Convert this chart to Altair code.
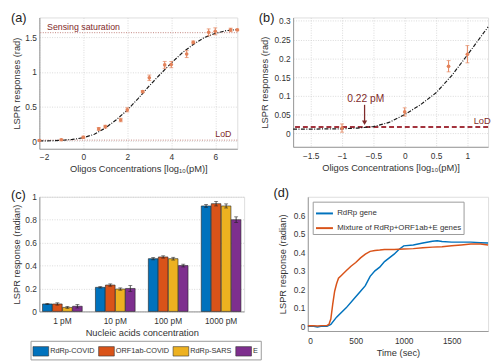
import altair as alt
import pandas as pd

# ---------------- data ----------------
# (a) oligo calibration
A_X = [-2, -1, 0, 0.7, 1, 1.7, 2, 2.7, 3, 3.7, 4, 4.7, 5, 5.7, 6, 6.7, 7]
A_Y = [0.01, 0.02, 0.057, 0.177, 0.21, 0.306, 0.454, 0.717, 0.917, 1.104, 1.108, 1.26, 1.43, 1.575, 1.59, 1.61, 1.61]
A_ERR = [0.01, 0.01, 0.015, 0.02, 0.02, 0.025, 0.03, 0.015, 0.04, 0.05, 0.045, 0.05, 0.02, 0.05, 0.05, 0.025, 0.01]
A_FIT_X = [-2, -1.5, -1, -0.5, 0, 0.5, 1, 1.5, 2, 2.5, 3, 3.5, 4, 4.5, 5, 5.5, 6, 6.5, 7]
A_FIT_Y = [0.003, 0.006, 0.012, 0.025, 0.05, 0.1, 0.19, 0.31, 0.45, 0.62, 0.8, 0.97, 1.13, 1.28, 1.4, 1.5, 1.56, 1.6, 1.615]
A_SAT = 1.57
A_LOD = 0.015

# (b) zoom near LoD
B_X = [-1, 0, 0.7, 1]
B_Y = [0.014, 0.057, 0.179, 0.211]
B_ERR = [0.011, 0.011, 0.015, 0.023]
B_FIT_X = [-1.78, -1.5, -1.25, -1, -0.75, -0.5, -0.25, 0, 0.25, 0.5, 0.75, 1, 1.33]
B_FIT_Y = [0.011, 0.011, 0.012, 0.012, 0.014, 0.018, 0.029, 0.05, 0.076, 0.108, 0.154, 0.209, 0.284]
B_LOD = 0.017
B_MARK_X = -0.64

# (c) nucleic acid bars
C_CONC = ["1 pM", "10 pM", "100 pM", "1000 pM"]
C_GENES = ["RdRp-COVID", "ORF1ab-COVID", "RdRp-SARS", "E"]
C_COLORS = ["#0072BD", "#D95319", "#EDB120", "#7E2F8E"]
C_VAL = {
    "RdRp-COVID":   [0.065, 0.21, 0.46, 0.92],
    "ORF1ab-COVID": [0.065, 0.23, 0.475, 0.94],
    "RdRp-SARS":    [0.035, 0.195, 0.46, 0.92],
    "E":            [0.045, 0.20, 0.40, 0.80],
}
C_ERR = {
    "RdRp-COVID":   [0.005, 0.006, 0.01, 0.012],
    "ORF1ab-COVID": [0.01, 0.01, 0.01, 0.02],
    "RdRp-SARS":    [0.008, 0.01, 0.012, 0.018],
    "E":            [0.015, 0.025, 0.012, 0.025],
}

# (d) kinetics
D_SERIES = ["RdRp gene", "Mixture of RdRp+ORF1ab+E genes"]
D_COLORS = ["#0072BD", "#D95319"]
D_BLUE_T = [0, 50, 100, 150, 200, 240, 300, 400, 500, 550, 600, 650, 700, 750, 800, 850, 900, 950, 1000,
            1100, 1200, 1300, 1350, 1400, 1500, 1600, 1700, 1800, 1880]
D_BLUE_V = [0.0, 0.002, -0.003, 0.002, 0.0, 0.01, 0.05, 0.1, 0.16, 0.19, 0.22, 0.27, 0.3, 0.32, 0.35, 0.37,
            0.39, 0.415, 0.435, 0.44, 0.45, 0.46, 0.463, 0.458, 0.455, 0.455, 0.455, 0.452, 0.45]
D_ORNG_T = [0, 50, 100, 150, 200, 220, 240, 260, 280, 300, 320, 350, 400, 450, 500, 550, 600, 650, 700,
            750, 800, 900, 1000, 1100, 1200, 1300, 1400, 1500, 1600, 1700, 1800, 1880]
D_ORNG_V = [0.003, 0.004, 0.002, 0.004, 0.005, 0.01, 0.04, 0.12, 0.19, 0.23, 0.26, 0.275, 0.3, 0.325, 0.345,
            0.37, 0.39, 0.405, 0.41, 0.412, 0.415, 0.415, 0.418, 0.42, 0.425, 0.428, 0.43, 0.435, 0.44, 0.445,
            0.445, 0.44]

PANEL_LABELS = ["(a)", "(b)", "(c)", "(d)"]

# ---------------- style ----------------
FONT = "Liberation Sans"
TXT = "#333333"
AXC = "#9a9a9a"
GRID = "#cfcfcf"
ORANGE = "#E3825A"
DARKRED = "#7F2A2A"
LODRED = "#A3333D"


def axis(**kw):
    base = dict(domainColor=AXC, ticks=False, labelFont=FONT, labelFontSize=8.5, labelColor=TXT,
                titleFont=FONT, titleFontSize=9.5, titleColor=TXT, titleFontWeight="normal",
                gridColor=GRID, gridDash=[1, 1.5], gridWidth=0.8, labelPadding=3, format="~g")
    base.update(kw)
    base = {k: v for k, v in base.items() if v is not None}
    return alt.Axis(**base)


def panel_label(text, dx, dy):
    return alt.Chart(pd.DataFrame({"t": [text]})).mark_text(
        font=FONT, fontSize=13, color="#222", align="left", baseline="top"
    ).encode(x=alt.value(dx), y=alt.value(dy), text="t:N")


# ---------------- panel (a) ----------------
a_pts = pd.DataFrame({"x": A_X, "y": A_Y,
                      "lo": [y - e for y, e in zip(A_Y, A_ERR)],
                      "hi": [y + e for y, e in zip(A_Y, A_ERR)]})
a_fit = pd.DataFrame({"x": A_FIT_X, "y": A_FIT_Y})
ax_a = axis(values=[-2, 0, 2, 4, 6], title="Oligos Concentrations [log₁₀(pM)]", labelPadding=4, titlePadding=3)
ay_a = axis(values=[0, 0.5, 1, 1.5], title="LSPR responses (rad)", titlePadding=3)
sx_a = alt.Scale(domain=[-2, 7], nice=False, zero=False)
sy_a = alt.Scale(domain=[-0.11, 1.79], nice=False, zero=False)

a_base = alt.Chart(a_pts)
a_err = a_base.mark_rule(color=ORANGE, strokeWidth=1).encode(
    x=alt.X("x:Q", scale=sx_a, axis=ax_a), y=alt.Y("lo:Q", scale=sy_a, axis=ay_a), y2="hi:Q")
a_cap_lo = a_base.mark_tick(color=ORANGE, orient="horizontal", size=4, thickness=1).encode(
    x=alt.X("x:Q", scale=sx_a, axis=ax_a), y=alt.Y("lo:Q", scale=sy_a, axis=ay_a))
a_cap_hi = a_base.mark_tick(color=ORANGE, orient="horizontal", size=4, thickness=1).encode(
    x=alt.X("x:Q", scale=sx_a, axis=ax_a), y=alt.Y("hi:Q", scale=sy_a, axis=ay_a))
a_dot = a_base.mark_point(color=ORANGE, filled=True, size=14, opacity=1).encode(
    x=alt.X("x:Q", scale=sx_a, axis=ax_a), y=alt.Y("y:Q", scale=sy_a, axis=ay_a))
a_line = alt.Chart(a_fit).mark_line(color="#1a1a1a", strokeWidth=1.2, strokeDash=[4, 1.5, 1, 1.5]).encode(
    x=alt.X("x:Q", scale=sx_a, axis=ax_a), y=alt.Y("y:Q", scale=sy_a, axis=ay_a))
a_sat = alt.Chart(pd.DataFrame({"y": [A_SAT]})).mark_rule(color="#C0807A", strokeDash=[1, 1.5], strokeWidth=1).encode(
    y=alt.Y("y:Q", scale=sy_a, axis=ay_a))
a_lod = alt.Chart(pd.DataFrame({"y": [A_LOD]})).mark_rule(color="#C0807A", strokeDash=[1, 1.5], strokeWidth=1).encode(
    y=alt.Y("y:Q", scale=sy_a, axis=ay_a))
a_txt = alt.Chart(pd.DataFrame({"x": [-1.65, 6.0], "y": [1.61, 0.055], "t": ["Sensing saturation", "LoD"]})).mark_text(
    font=FONT, fontSize=9, color=DARKRED, align="left", baseline="alphabetic").encode(
    x=alt.X("x:Q", scale=sx_a, axis=ax_a), y=alt.Y("y:Q", scale=sy_a, axis=ay_a), text="t:N")

panel_a = alt.layer(a_sat, a_lod, a_line, a_err, a_cap_lo, a_cap_hi, a_dot, a_txt,
                    panel_label(PANEL_LABELS[0], -29, -5)).properties(width=202, height=134)

# ---------------- panel (b) ----------------
b_pts = pd.DataFrame({"x": B_X, "y": B_Y,
                      "lo": [y - e for y, e in zip(B_Y, B_ERR)],
                      "hi": [y + e for y, e in zip(B_Y, B_ERR)]})
b_fit = pd.DataFrame({"x": B_FIT_X, "y": B_FIT_Y})
ax_b = axis(values=[-1.5, -1, -0.5, 0, 0.5, 1], title="Oligos Concentrations [log₁₀(pM)]", labelPadding=5, titlePadding=3)
ay_b = axis(values=[0, 0.05, 0.1, 0.15, 0.2, 0.25, 0.3], title="LSPR responses (rad)", titlePadding=5)
sx_b = alt.Scale(domain=[-1.78, 1.33], nice=False, zero=False)
sy_b = alt.Scale(domain=[-0.036, 0.309], nice=False, zero=False)

b_base = alt.Chart(b_pts)
b_lod = alt.Chart(pd.DataFrame({"y": [B_LOD]})).mark_rule(color=LODRED, strokeDash=[5, 3], strokeWidth=2).encode(
    y=alt.Y("y:Q", scale=sy_b, axis=ay_b))
b_line = alt.Chart(b_fit).mark_line(color="#1a1a1a", strokeWidth=1.2, strokeDash=[4, 1.5, 1, 1.5]).encode(
    x=alt.X("x:Q", scale=sx_b, axis=ax_b), y=alt.Y("y:Q", scale=sy_b, axis=ay_b))
b_err = b_base.mark_rule(color=ORANGE, strokeWidth=1).encode(
    x=alt.X("x:Q", scale=sx_b, axis=ax_b), y=alt.Y("lo:Q", scale=sy_b, axis=ay_b), y2="hi:Q")
b_cap_lo = b_base.mark_tick(color=ORANGE, orient="horizontal", size=4, thickness=1).encode(
    x=alt.X("x:Q", scale=sx_b, axis=ax_b), y=alt.Y("lo:Q", scale=sy_b, axis=ay_b))
b_cap_hi = b_base.mark_tick(color=ORANGE, orient="horizontal", size=4, thickness=1).encode(
    x=alt.X("x:Q", scale=sx_b, axis=ax_b), y=alt.Y("hi:Q", scale=sy_b, axis=ay_b))
b_dot = b_base.mark_point(color=ORANGE, filled=True, size=14, opacity=1).encode(
    x=alt.X("x:Q", scale=sx_b, axis=ax_b), y=alt.Y("y:Q", scale=sy_b, axis=ay_b))
b_arrow = alt.Chart(pd.DataFrame({"x": [B_MARK_X], "y": [0.076], "y2": [0.032]})).mark_rule(
    color=DARKRED, strokeWidth=1.3).encode(
    x=alt.X("x:Q", scale=sx_b, axis=ax_b), y=alt.Y("y:Q", scale=sy_b, axis=ay_b), y2="y2:Q")
b_head = alt.Chart(pd.DataFrame({"x": [B_MARK_X], "y": [0.028]})).mark_point(
    shape="triangle-down", filled=True, color=DARKRED, size=28, opacity=1).encode(
    x=alt.X("x:Q", scale=sx_b, axis=ax_b), y=alt.Y("y:Q", scale=sy_b, axis=ay_b))
b_txt_pm = alt.Chart(pd.DataFrame({"x": [-0.62], "y": [0.083], "t": ["0.22 pM"]})).mark_text(
    font=FONT, fontSize=10.5, color=DARKRED, align="center", baseline="alphabetic").encode(
    x=alt.X("x:Q", scale=sx_b, axis=ax_b), y=alt.Y("y:Q", scale=sy_b, axis=ay_b), text="t:N")
b_txt_lod = alt.Chart(pd.DataFrame({"x": [1.1], "y": [0.024], "t": ["LoD"]})).mark_text(
    font=FONT, fontSize=9.5, color=DARKRED, align="left", baseline="alphabetic").encode(
    x=alt.X("x:Q", scale=sx_b, axis=ax_b), y=alt.Y("y:Q", scale=sy_b, axis=ay_b), text="t:N")

panel_b = alt.layer(b_lod, b_line, b_err, b_cap_lo, b_cap_hi, b_dot, b_arrow, b_head, b_txt_pm, b_txt_lod,
                    panel_label(PANEL_LABELS[1], -35, -5)).properties(width=199, height=132)

# ---------------- panel (c) ----------------
c_rows = []
for g in C_GENES:
    for i, c in enumerate(C_CONC):
        v, e = C_VAL[g][i], C_ERR[g][i]
        c_rows.append({"conc": c, "gene": g, "v": v, "lo": v - e, "hi": v + e})
c_df = pd.DataFrame(c_rows)
ax_c = axis(title="Nucleic acids concentration", labelAngle=0, labelPadding=5, titlePadding=3, grid=False, format=None)
ay_c = axis(values=[0, 0.2, 0.4, 0.6, 0.8, 1], title="LSPR response (radian)", titlePadding=3)
x_c = alt.X("conc:N", sort=C_CONC, scale=alt.Scale(paddingInner=0.25, paddingOuter=0.06), axis=ax_c)
xo_c = alt.XOffset("gene:N", sort=C_GENES, scale=alt.Scale(paddingInner=0.04))
sy_c = alt.Scale(domain=[0, 1], nice=False)

c_base = alt.Chart(c_df)
c_bars = c_base.mark_bar(stroke="#222", strokeWidth=0.6).encode(
    x=x_c, xOffset=xo_c, y=alt.Y("v:Q", scale=sy_c, axis=ay_c),
    color=alt.Color("gene:N", sort=C_GENES, scale=alt.Scale(domain=C_GENES, range=C_COLORS),
                    legend=alt.Legend(orient="none", legendX=-9, legendY=147, direction="horizontal",
                                      title=None, strokeColor="#9a9a9a", fillColor="white", padding=2,
                                      symbolType="M-1,-0.6H1V0.6H-1Z", symbolSize=256,
                                      symbolStrokeColor="#333", symbolStrokeWidth=0.6, symbolOpacity=1,
                                      labelFont=FONT, labelFontSize=7.5, labelColor=TXT,
                                      labelOffset=1, columnPadding=2)))
c_err = c_base.mark_rule(color="#222", strokeWidth=0.8).encode(
    x=x_c, xOffset=xo_c, y=alt.Y("lo:Q", scale=sy_c, axis=ay_c), y2="hi:Q")
c_cap_lo = c_base.mark_tick(color="#222", orient="horizontal", size=4, thickness=0.8).encode(
    x=x_c, xOffset=xo_c, y=alt.Y("lo:Q", scale=sy_c, axis=ay_c))
c_cap_hi = c_base.mark_tick(color="#222", orient="horizontal", size=4, thickness=0.8).encode(
    x=x_c, xOffset=xo_c, y=alt.Y("hi:Q", scale=sy_c, axis=ay_c))

panel_c = alt.layer(c_bars, c_err, c_cap_lo, c_cap_hi,
                    panel_label(PANEL_LABELS[2], -29, -8)).properties(width=209, height=117)

# ---------------- panel (d) ----------------
d_df = pd.concat([
    pd.DataFrame({"t": D_BLUE_T, "v": D_BLUE_V, "series": D_SERIES[0]}),
    pd.DataFrame({"t": D_ORNG_T, "v": D_ORNG_V, "series": D_SERIES[1]}),
])
ax_d = axis(values=[0, 500, 1000, 1500], title="Time (sec)", labelPadding=6, titlePadding=3, format="d", grid=False)
ay_d = axis(values=[0, 0.1, 0.2, 0.3, 0.4, 0.5, 0.6], title="LSPR response (radian)", titlePadding=6, grid=False)
d_lines = alt.Chart(d_df).mark_line(strokeWidth=1.5).encode(
    x=alt.X("t:Q", scale=alt.Scale(domain=[0, 1880], nice=False), axis=ax_d),
    y=alt.Y("v:Q", scale=alt.Scale(domain=[-0.025, 0.7], nice=False, zero=False), axis=ay_d),
    color=alt.Color("series:N", sort=D_SERIES, scale=alt.Scale(domain=D_SERIES, range=D_COLORS),
                    legend=alt.Legend(orient="none", legendX=5, legendY=5, title=None,
                                      strokeColor="#9a9a9a", fillColor="white", padding=2,
                                      symbolType="stroke", symbolSize=300, symbolStrokeWidth=2,
                                      labelFont=FONT, labelFontSize=8, labelColor=TXT,
                                      labelOffset=3, rowPadding=1)),
    detail="series:N")

panel_d = alt.layer(d_lines, panel_label(PANEL_LABELS[3], -35, -10)).properties(width=184, height=137)

# ---------------- assemble ----------------
row1 = alt.hconcat(panel_a, panel_b, spacing=57, bounds="flush")
row2 = alt.hconcat(panel_c, panel_d, spacing=65, bounds="flush").resolve_scale(color="independent")
chart = alt.vconcat(row1, row2, spacing=12).properties(
    padding={"left": 2, "top": 0, "right": 0, "bottom": 0}
).configure_view(stroke=AXC, strokeWidth=1).configure(background="white")

chart.save("out.html", embed_options={"renderer": "svg", "actions": False})
